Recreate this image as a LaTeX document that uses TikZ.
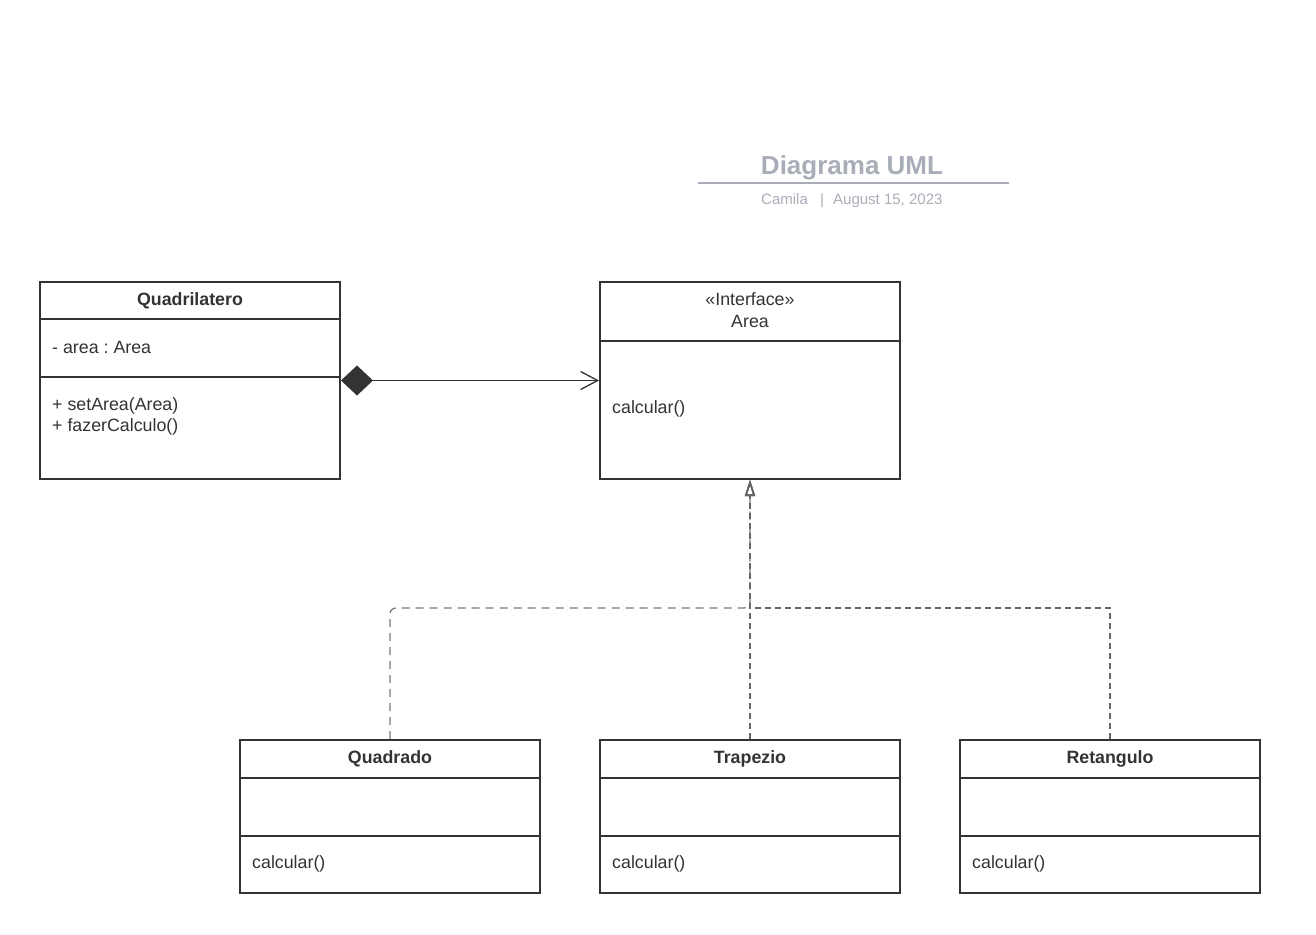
\documentclass[tikz,border=0pt]{standalone}
\usepackage{fontspec}
\setmainfont{Liberation Sans}
\usetikzlibrary{arrows.meta}
\definecolor{ink}{HTML}{333333}
\definecolor{titlegrey}{HTML}{A9ADB8}
\definecolor{dashgrey}{HTML}{666666}
\definecolor{lightdash}{HTML}{7A7A7A}
\frenchspacing
\begin{document}
\begin{tikzpicture}[x=1pt,y=-1pt,
  classbox/.style={draw=ink,line width=2pt,rectangle,inner sep=0pt,minimum width=300pt},
  divider/.style={draw=ink,line width=2pt},
  body/.style={text=ink,font=\fontsize{17.8pt}{21pt}\selectfont,inner sep=0pt},
  head/.style={body,font=\fontsize{17.8pt}{21pt}\selectfont\bfseries},
  compose/.style={draw=ink,line width=1.3pt,{Diamond[length=32pt,width=30pt,fill=ink]}-{Straight Barb[length=17pt,width=18pt]}},
  realizethin/.style={draw=lightdash,line width=1.3pt,dash pattern=on 8pt off 6pt},
  realize/.style={draw=dashgrey,line width=2pt,dash pattern=on 6pt off 4pt},
  realtip/.style={-{Triangle[open,length=16pt,width=10pt,line width=1.6pt]}}
]
\useasboundingbox (0,0) rectangle (1316,934);

% title block
\node[anchor=base,text=titlegrey,inner sep=0pt,font=\fontsize{26pt}{30pt}\selectfont\bfseries] (ttl) at (852,174) {Diagrama UML};
\coordinate (rulel) at (698,183);
\coordinate (ruler) at (1009,183);
\draw[titlegrey,line width=2pt] (rulel) -- (ruler);
\node[anchor=base west,text=titlegrey,inner sep=0pt,font=\fontsize{15pt}{18pt}\selectfont] (author) at (761,204) {Camila};
\node[anchor=base,text=titlegrey,inner sep=0pt,font=\fontsize{15pt}{18pt}\selectfont] (sep) at (822,204) {|};
\node[anchor=base west,text=titlegrey,inner sep=0pt,font=\fontsize{15pt}{18pt}\selectfont] (date) at (833,204) {August 15, 2023};

% Quadrilatero
\node[classbox,minimum height=197pt] (q) at (190,380.5) {};
\draw[divider] (q.west |- 0,319) -- (q.east |- 0,319);
\draw[divider] (q.west |- 0,377) -- (q.east |- 0,377);
\node[head,anchor=base] (qname) at (190,305) {Quadrilatero};
\node[body,anchor=base west] (qattr) at (52,353) {- area : Area};
\node[body,anchor=base west] (qm1) at (52,410) {+ setArea(Area)};
\node[body,anchor=base west] (qm2) at (52,431) {+ fazerCalculo()};

% Area interface
\node[classbox,minimum height=197pt] (ar) at (750,380.5) {};
\draw[divider] (ar.west |- 0,341) -- (ar.east |- 0,341);
\node[body,anchor=base] (arst) at (750,305) {«Interface»};
\node[body,anchor=base] (arname) at (750,327) {Area};
\node[body,anchor=base west] (arm) at (612,413) {calcular()};

% implementing classes
\foreach \nm/\cx/\lbl in {qd/390/Quadrado, tz/750/Trapezio, rt/1110/Retangulo}{
  \node[classbox,minimum height=153pt] (\nm) at (\cx,816.5) {};
  \draw[divider] (\nm.west |- 0,778) -- (\nm.east |- 0,778);
  \draw[divider] (\nm.west |- 0,836) -- (\nm.east |- 0,836);
  \node[head,anchor=base] (\nm-name) at (\cx,763) {\lbl};
  \node[body,anchor=base west] (\nm-op) at (\cx-138,868) {calcular()};
}

% composition
\draw[compose] (q.east) -- (ar.west);

% realizations
\coordinate (join) at (750,608);
\draw[realizethin,rounded corners=6pt,realtip] (qd.north) |- (join) -- (ar.south);
\draw[realize,realtip] (rt.north) |- (join) -- (ar.south);
\draw[realize,realtip] (tz.north) -- (ar.south);
\end{tikzpicture}
\end{document}
